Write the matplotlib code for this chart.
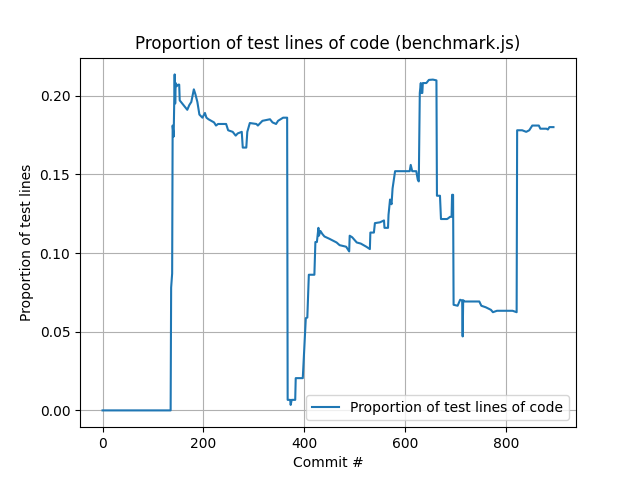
import matplotlib
matplotlib.use("Agg")
import matplotlib.pyplot as plt

# (commit, proportion)
commits = [0, 135, 136, 138, 139, 141, 143, 144, 145, 147, 150, 152, 153, 158, 163,
           168, 172, 176, 181, 184, 188, 192, 198, 203, 206, 210, 221, 225, 229, 245,
           249, 258, 264, 268, 276, 278, 285, 287, 292, 305, 308, 317, 332, 337, 344,
           348, 358, 366, 367, 372, 373, 375, 382, 383, 397, 401, 403, 406, 409, 420,
           422, 425, 428, 429, 432, 436, 440, 450, 464, 470, 483, 489, 490, 495, 504,
           512, 523, 530, 531, 538, 540, 550, 558, 559, 566, 567, 570, 573, 575, 580,
           596, 609, 611, 614, 622, 625, 627, 629, 631, 632, 634, 635, 642, 647, 655,
           662, 663, 669, 671, 683, 685, 689, 692, 693, 695, 696, 704, 709, 713, 714,
           715, 718, 747, 751, 760, 770, 774, 782, 813, 821, 822, 832, 840, 846, 852,
           865, 868, 880, 883, 886, 894]
proportion = [0.0, 0.0, 0.078, 0.087, 0.181, 0.174, 0.2135, 0.195, 0.208, 0.206, 0.207,
              0.207, 0.197, 0.195, 0.193, 0.191, 0.194, 0.196, 0.204, 0.201, 0.196, 0.188,
              0.186, 0.189, 0.186, 0.185, 0.183, 0.181, 0.182, 0.182, 0.178, 0.177, 0.1746,
              0.176, 0.177, 0.167, 0.167, 0.177, 0.1826, 0.182, 0.181, 0.184, 0.185, 0.183,
              0.182, 0.184, 0.186, 0.186, 0.0067, 0.0067, 0.0035, 0.0067, 0.0067, 0.0205,
              0.0205, 0.045, 0.0586, 0.059, 0.0862, 0.0862, 0.107, 0.107, 0.116, 0.111,
              0.114, 0.112, 0.1105, 0.109, 0.1067, 0.105, 0.104, 0.101, 0.111, 0.110,
              0.1067, 0.106, 0.104, 0.1025, 0.113, 0.113, 0.119, 0.1195, 0.1207, 0.116,
              0.116, 0.1243, 0.134, 0.131, 0.141, 0.152, 0.152, 0.152, 0.156, 0.152, 0.152,
              0.1466, 0.1455, 0.2017, 0.208, 0.2017, 0.2017, 0.208, 0.208, 0.210, 0.2102,
              0.2097, 0.1364, 0.1364, 0.1216, 0.1216, 0.122, 0.123, 0.123, 0.137, 0.137,
              0.0671, 0.0665, 0.0703, 0.0698, 0.047, 0.070, 0.0692, 0.0692, 0.0665, 0.0655,
              0.0639, 0.0624, 0.0633, 0.0633, 0.0624, 0.178, 0.178, 0.177, 0.178, 0.181,
              0.181, 0.179, 0.179, 0.1785, 0.18, 0.18]

fig, ax = plt.subplots(figsize=(6.4, 4.8), dpi=100)
ax.plot(commits, proportion, label='Proportion of test lines of code')
ax.set_title('Proportion of test lines of code (benchmark.js)')
ax.set_xlabel('Commit #')
ax.set_ylabel('Proportion of test lines')
ax.grid(True)
ax.legend(loc='lower right')
fig.savefig('out.png')
